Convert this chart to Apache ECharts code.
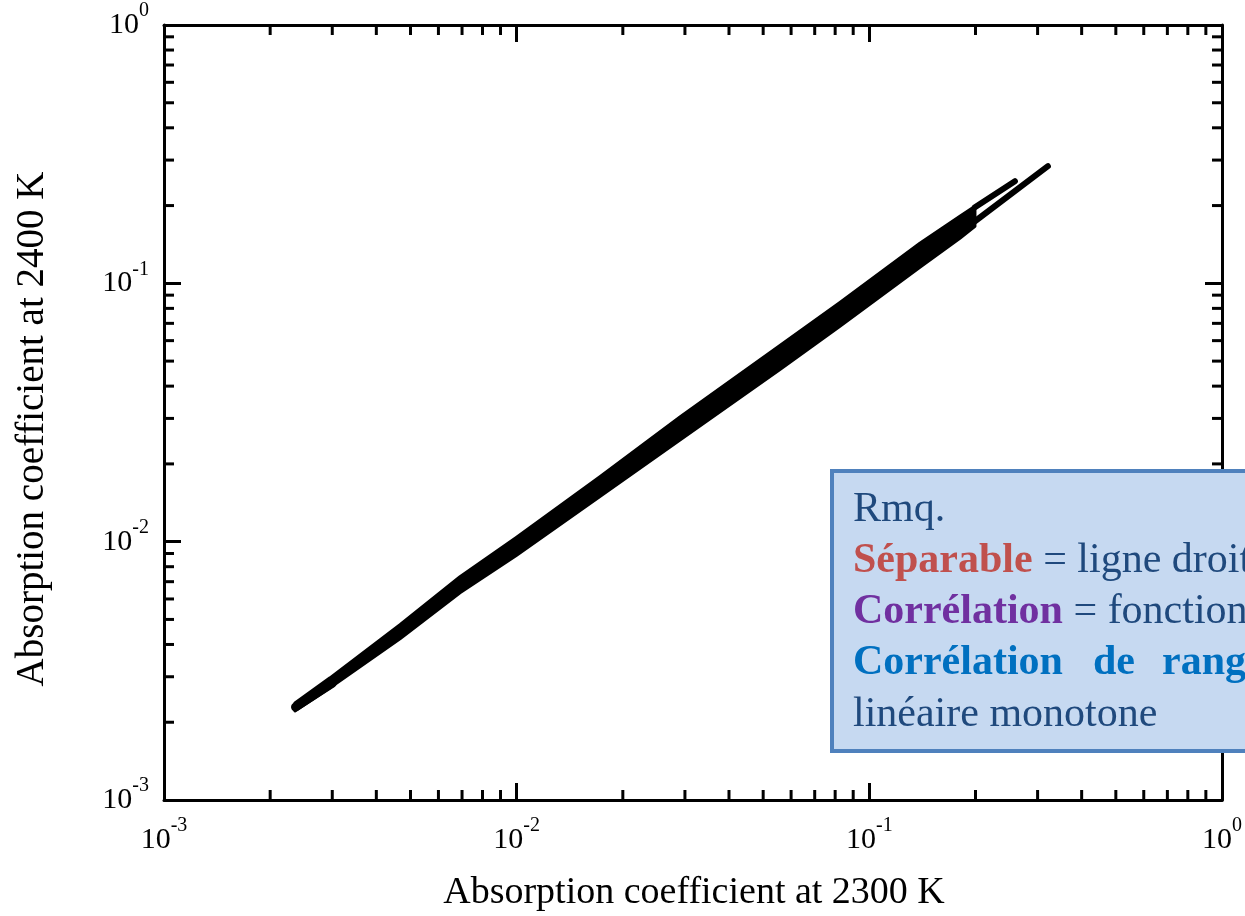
<!DOCTYPE html>
<html><head><meta charset="utf-8">
<script src="https://cdn.jsdelivr.net/npm/echarts@6/dist/echarts.min.js"></script>
<style>html,body{margin:0;padding:0;background:#fff}#c{width:1245px;height:916px}</style>
</head><body><div id="c"></div>
<script>
// ---- data ----
const tickExponents = [-3, -2, -1, 0];
const minorTickValues = [0.002,0.003,0.004,0.005,0.006,0.007,0.008,0.009,
  0.02,0.03,0.04,0.05,0.06,0.07,0.08,0.09,0.2,0.3,0.4,0.5,0.6,0.7,0.8,0.9];
// main band: absorption at 2300 K (x) vs upper / lower envelope at 2400 K (y)
const bandX     = [0.002352,0.002956,0.004668,0.006907,0.00995,0.01722,0.02904,0.05578,0.08253,0.1391,0.1806,0.1993];
const bandUpper = [0.002377,0.002971,0.004769,0.007315,0.01036,0.01786,0.03039,0.05750,0.08440,0.1429,0.1818,0.1988];
const bandLower = [0.002213,0.002717,0.004207,0.006342,0.008824,0.01494,0.02474,0.04642,0.06813,0.1153,0.1494,0.1663];
// rounded start of the band
const bandStart = [[0.00236,0.00229],[0.00300,0.00283]];
// two thin branches at the high end
const branchA = [[0.1993,0.1971],[0.2587,0.2485]];
const branchB = [[0.1993,0.1739],[0.3209,0.2841]];

const xTitle = 'Absorption coefficient at 2300 K';
const yTitle = 'Absorption coefficient at 2400 K';

const SERIF = "'Liberation Serif','Times New Roman',serif";
const chart = echarts.init(document.getElementById('c'), null, {renderer:'canvas'});

function fmt(v){
  const e = Math.round(Math.log10(v));
  return '{b|10}{s|' + e + '}';
}
const rich = {
  b:{fontSize:30, fontFamily:SERIF, color:'#000'},
  s:{fontSize:20, fontFamily:SERIF, color:'#000', padding:[0,0,28,0]}
};
function axisBase(extra){
  return Object.assign({
    type:'log', logBase:10, min:0.001, max:1,
    axisLine:{show:true, onZero:false, lineStyle:{color:'#000', width:3}},
    axisTick:{show:true, inside:true, length:17, lineStyle:{color:'#000', width:3}},
    splitLine:{show:false}, minorTick:{show:false}, minorSplitLine:{show:false}
  }, extra);
}

const minorData = [];
minorTickValues.forEach(v => { minorData.push([v, 0.01, 0]); minorData.push([0.01, v, 1]); });

chart.setOption({
  animation:false,
  grid:{left:164, right:22, top:25, bottom:116, containLabel:false},
  xAxis:[
    axisBase({position:'bottom', axisLabel:{show:true, margin:16, fontSize:30, fontFamily:SERIF, color:'#000', formatter:fmt, rich:rich}}),
    axisBase({position:'top', axisLabel:{show:false}})
  ],
  yAxis:[
    axisBase({position:'left', axisLabel:{show:true, margin:15, fontSize:30, fontFamily:SERIF, color:'#000', formatter:fmt, rich:rich}}),
    axisBase({position:'right', axisLabel:{show:false}})
  ],
  series:[
    {
      type:'custom', xAxisIndex:0, yAxisIndex:0, silent:true,
      data:[[bandX[0], bandUpper[0]]],
      renderItem:function(params, api){
        const pts = [];
        for (let i=0;i<bandX.length;i++) pts.push(api.coord([bandX[i], bandUpper[i]]));
        for (let i=bandX.length-1;i>=0;i--) pts.push(api.coord([bandX[i], bandLower[i]]));
        return {type:'polygon', shape:{points:pts, smooth:0},
          style:{fill:'#000', stroke:'#000', lineWidth:3, lineJoin:'round'}};
      }
    },
    {type:'line', data:bandStart, symbol:'none', silent:true,
      lineStyle:{color:'#000', width:9, cap:'round'}},
    {type:'line', data:branchA, symbol:'none', silent:true,
      lineStyle:{color:'#000', width:6, cap:'round'}},
    {type:'line', data:branchB, symbol:'none', silent:true,
      lineStyle:{color:'#000', width:6, cap:'round'}},
    {
      type:'custom', xAxisIndex:0, yAxisIndex:0, silent:true, data:minorData,
      renderItem:function(params, api){
        const cs = params.coordSys;
        const L = cs.x, R = cs.x + cs.width, T = cs.y, B = cs.y + cs.height;
        const len = 10, st = {stroke:'#000', lineWidth:3};
        if (api.value(2) === 0){
          const px = api.coord([api.value(0), 0.01])[0];
          return {type:'group', children:[
            {type:'line', shape:{x1:px,y1:B,x2:px,y2:B-len}, style:st},
            {type:'line', shape:{x1:px,y1:T,x2:px,y2:T+len}, style:st}
          ]};
        } else {
          const py = api.coord([0.01, api.value(1)])[1];
          return {type:'group', children:[
            {type:'line', shape:{x1:L,y1:py,x2:L+len,y2:py}, style:st},
            {type:'line', shape:{x1:R,y1:py,x2:R-len,y2:py}, style:st}
          ]};
        }
      }
    }
  ],
  graphic:[
    {type:'text', x:694, y:893, style:{text:xTitle, font:'38px '+SERIF, fill:'#000', textAlign:'center', textVerticalAlign:'middle', align:'center', verticalAlign:'middle'}},
    {type:'text', x:33, y:429, rotation:Math.PI/2, style:{text:yTitle, font:'39px '+SERIF, fill:'#000', textAlign:'center', textVerticalAlign:'middle', align:'center', verticalAlign:'middle'}},
    {type:'rect', z:100, shape:{x:832, y:471, width:500, height:280}, style:{fill:'#c6d9f1', stroke:'#4f81bd', lineWidth:4}},
    {type:'text', z:101, x:853, y:510, style:{text:'Rmq.', font:'42px '+SERIF, fill:'#1f497d', verticalAlign:'middle', textVerticalAlign:'middle'}},
    {type:'text', z:101, x:853, y:561, style:{text:'{r|Séparable} = ligne droite', font:'42px '+SERIF, fill:'#1f497d', verticalAlign:'middle', textVerticalAlign:'middle',
      rich:{r:{font:'bold 42px '+SERIF, fill:'#c0504d', color:'#c0504d'}}}},
    {type:'text', z:101, x:853, y:612, style:{text:'{p|Corrélation} = fonction', font:'42px '+SERIF, fill:'#1f497d', verticalAlign:'middle', textVerticalAlign:'middle',
      rich:{p:{font:'bold 42px '+SERIF, fill:'#7030a0', color:'#7030a0'}}}},
    {type:'text', z:101, x:853, y:663, style:{text:'Corrélation', font:'bold 42px '+SERIF, fill:'#0070c0', verticalAlign:'middle', textVerticalAlign:'middle'}},
    {type:'text', z:101, x:1093, y:663, style:{text:'de', font:'bold 42px '+SERIF, fill:'#0070c0', verticalAlign:'middle', textVerticalAlign:'middle'}},
    {type:'text', z:101, x:1162, y:663, style:{text:'rang', font:'bold 42px '+SERIF, fill:'#0070c0', verticalAlign:'middle', textVerticalAlign:'middle'}},
    {type:'text', z:101, x:853, y:715, style:{text:'linéaire monotone', font:'42px '+SERIF, fill:'#1f497d', verticalAlign:'middle', textVerticalAlign:'middle'}}
  ]
});
</script></body></html>
